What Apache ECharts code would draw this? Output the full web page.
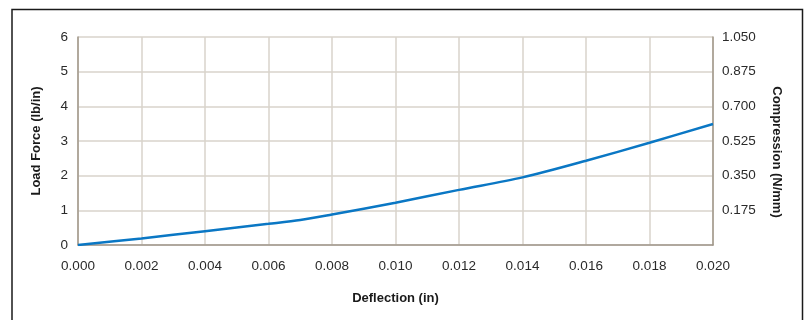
<!DOCTYPE html>
<html>
<head>
<meta charset="utf-8">
<script src="https://cdn.jsdelivr.net/npm/echarts@6/dist/echarts.min.js"></script>
<style>
html,body{margin:0;padding:0;background:#fff;}
#c{width:809px;height:320px;}
</style>
</head>
<body>
<div id="c"></div>
<script>
const deflection = [0, 0.002, 0.004, 0.006, 0.007, 0.008, 0.010, 0.012, 0.014, 0.016, 0.018, 0.020];
const loadForce = [0, 0.19, 0.40, 0.61, 0.72, 0.88, 1.22, 1.59, 1.95, 2.43, 2.95, 3.49];
const xTitle = 'Deflection (in)';
const yLeftTitle = 'Load Force (lb/in)';
const yRightTitle = 'Compression (N/mm)';

const axisColor = '#a0978a';
const gridColor = '#d9d3cb';
const textColor = '#2a2a2a';
const labelFont = {color: textColor, fontSize: 13.5, fontFamily: 'Liberation Sans, Arial, sans-serif'};
const nameFont = {color: '#1a1a1a', fontSize: 13, fontWeight: 'bold', fontFamily: 'Liberation Sans Narrow, Liberation Sans, sans-serif'};

const chart = echarts.init(document.getElementById('c'), null, {renderer: 'canvas'});
chart.setOption({
  animation: false,
  graphic: [{
    type: 'rect',
    shape: {x: 12, y: 9.5, width: 790.5, height: 330},
    style: {fill: 'none', stroke: '#1a1a1a', lineWidth: 1.5},
    silent: true
  }],
  grid: {left: 78, right: 96, top: 37, bottom: 75, containLabel: false},
  xAxis: {
    type: 'value', min: 0, max: 0.02, interval: 0.002,
    name: xTitle, nameLocation: 'middle', nameGap: 47, nameTextStyle: nameFont,
    axisLine: {show: true, lineStyle: {color: axisColor, width: 1.5}},
    axisTick: {show: false},
    axisLabel: Object.assign({margin: 14, formatter: v => v.toFixed(3)}, labelFont),
    splitLine: {show: true, lineStyle: {color: gridColor, width: 1.5}}
  },
  yAxis: [{
    type: 'value', min: 0, max: 6, interval: 1, position: 'left',
    name: yLeftTitle, nameLocation: 'middle', nameGap: 35, nameRotate: 90, nameTextStyle: nameFont,
    axisLine: {show: true, lineStyle: {color: axisColor, width: 1.5}},
    axisTick: {show: false},
    axisLabel: Object.assign({margin: 10}, labelFont),
    splitLine: {show: true, lineStyle: {color: gridColor, width: 1.5}}
  }, {
    type: 'value', min: 0, max: 1.05, interval: 0.175, position: 'right',
    name: yRightTitle, nameLocation: 'middle', nameGap: 57, nameRotate: -90,
    nameTextStyle: Object.assign({padding: [0, 0, 0, 22]}, nameFont),
    axisLine: {show: true, lineStyle: {color: axisColor, width: 1.5}},
    axisTick: {show: false},
    axisLabel: Object.assign({margin: 9, formatter: v => v === 0 ? '' : v.toFixed(3)}, labelFont),
    splitLine: {show: false}
  }],
  series: [{
    type: 'line',
    data: deflection.map((d, i) => [d, loadForce[i]]),
    smooth: 0.3,
    showSymbol: false,
    lineStyle: {color: '#0a77c4', width: 2.5},
    yAxisIndex: 0
  }]
});
</script>
</body>
</html>
